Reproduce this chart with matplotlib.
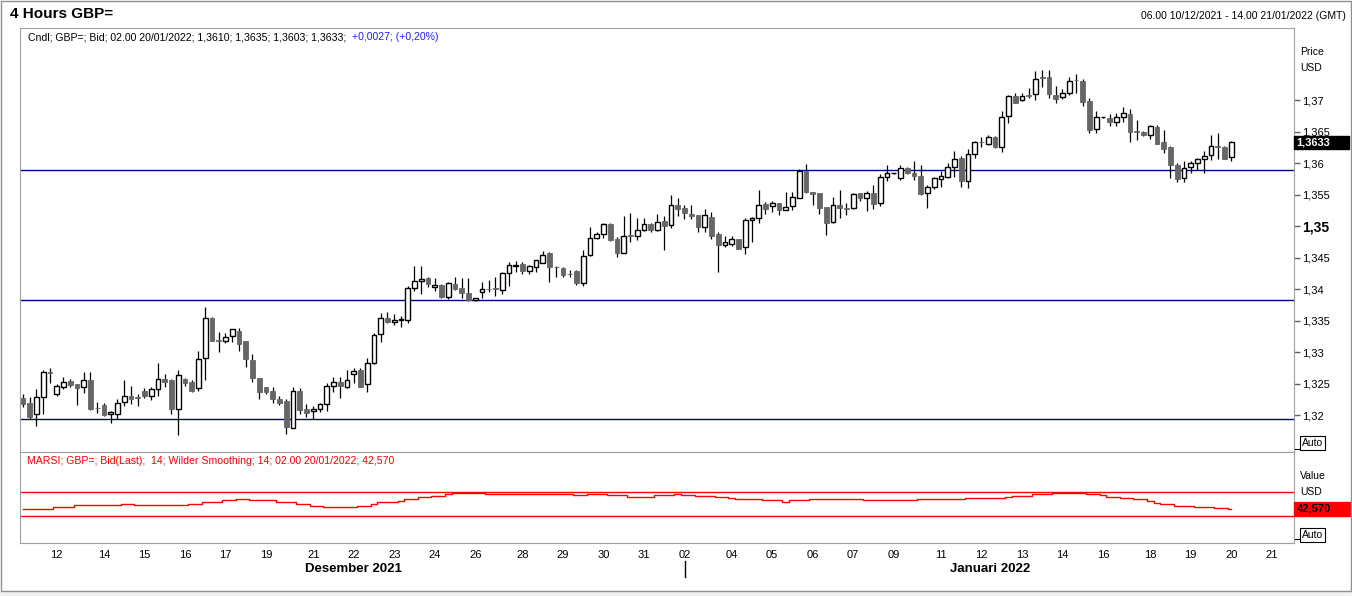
import numpy as np
import matplotlib.pyplot as plt
from matplotlib.patches import Rectangle
from matplotlib.lines import Line2D

plt.rcParams['font.family'] = ['Liberation Sans', 'DejaVu Sans']

# 4h candles, 06.00 10/12/2021 .. 02.00 20/01/2022
opens = [
    1.32275, 1.32196, 1.32011, 1.32281, 1.32678, 1.32339, 1.32439, 1.32540, 1.32492, 1.32439,
    1.32550, 1.32117, 1.32154, 1.32011, 1.32011, 1.32201, 1.32302, 1.32281, 1.32376, 1.32297,
    1.32408, 1.32566, 1.32550, 1.32090, 1.32566, 1.32519, 1.32423, 1.32900, 1.33535, 1.33180,
    1.33170, 1.33254, 1.33333, 1.33175, 1.32873, 1.32587, 1.32444, 1.32381, 1.32254, 1.32222,
    1.31788, 1.32381, 1.32095, 1.32058, 1.32090, 1.32169, 1.32460, 1.32519, 1.32450, 1.32646,
    1.32714, 1.32487, 1.32831, 1.33286, 1.33534, 1.33476, 1.33508, 1.33503, 1.34011, 1.34122,
    1.34169, 1.34032, 1.34064, 1.33878, 1.34080, 1.34016, 1.33937, 1.33826, 1.33958, 1.34000,
    1.34011, 1.33990, 1.34249, 1.34370, 1.34397, 1.34291, 1.34355, 1.34418, 1.34571, 1.34349,
    1.34333, 1.34243, 1.34281, 1.34095, 1.34534, 1.34804, 1.34868, 1.35027, 1.34794, 1.34566,
    1.34847, 1.34836, 1.34931, 1.35026, 1.34931, 1.35079, 1.35021, 1.35328, 1.35286, 1.35185,
    1.35169, 1.34979, 1.35143, 1.34873, 1.34693, 1.34709, 1.34788, 1.34672, 1.35090, 1.35122,
    1.35344, 1.35312, 1.35360, 1.35249, 1.35312, 1.35450, 1.35878, 1.35534, 1.35524, 1.35302,
    1.35069, 1.35328, 1.35280, 1.35280, 1.35519, 1.35439, 1.35519, 1.35371, 1.35783, 1.35836,
    1.35757, 1.35916, 1.35836, 1.35794, 1.35519, 1.35614, 1.35741, 1.35783, 1.35942, 1.36074,
    1.35714, 1.36148, 1.36333, 1.36296, 1.36407, 1.36259, 1.36751, 1.37064, 1.36995, 1.37074,
    1.37090, 1.37360, 1.37365, 1.37085, 1.37048, 1.37106, 1.37317, 1.37302, 1.36979, 1.36534,
    1.36725, 1.36709, 1.36656, 1.36725, 1.36778, 1.36508, 1.36492, 1.36439, 1.36572, 1.36333,
    1.36254, 1.35968, 1.35757, 1.35931, 1.35995, 1.36058, 1.36122, 1.36270, 1.36249, 1.36100,
]
highs = [
    1.32334, 1.32281, 1.32413, 1.32715, 1.32752, 1.32487, 1.32609, 1.32572, 1.32492, 1.32678,
    1.32678, 1.32201, 1.32185, 1.32058, 1.32249, 1.32556, 1.32460, 1.32339, 1.32423, 1.32439,
    1.32820, 1.32651, 1.32566, 1.32715, 1.32582, 1.32550, 1.33016, 1.33720, 1.33556, 1.33323,
    1.33297, 1.33370, 1.33386, 1.33175, 1.32963, 1.32587, 1.32444, 1.32444, 1.32302, 1.32249,
    1.32444, 1.32434, 1.32175, 1.32143, 1.32196, 1.32513, 1.32603, 1.32608, 1.32719, 1.32751,
    1.32741, 1.32905, 1.33302, 1.33624, 1.33630, 1.33598, 1.33577, 1.34048, 1.34370, 1.34370,
    1.34196, 1.34169, 1.34080, 1.34116, 1.34185, 1.34175, 1.34175, 1.33863, 1.34111, 1.34143,
    1.34191, 1.34265, 1.34434, 1.34444, 1.34434, 1.34381, 1.34466, 1.34598, 1.34582, 1.34370,
    1.34349, 1.34296, 1.34296, 1.34614, 1.34984, 1.34905, 1.35053, 1.35048, 1.34825, 1.35159,
    1.35206, 1.35127, 1.35122, 1.35042, 1.35185, 1.35159, 1.35492, 1.35444, 1.35333, 1.35328,
    1.35169, 1.35270, 1.35228, 1.34910, 1.34841, 1.34841, 1.34788, 1.35132, 1.35138, 1.35577,
    1.35376, 1.35397, 1.35370, 1.35540, 1.35545, 1.35899, 1.35984, 1.35534, 1.35524, 1.35302,
    1.35460, 1.35577, 1.35370, 1.35519, 1.35519, 1.35561, 1.35651, 1.35831, 1.35969, 1.35841,
    1.35963, 1.35942, 1.36032, 1.35969, 1.35651, 1.35783, 1.35873, 1.35995, 1.36196, 1.36111,
    1.36217, 1.36354, 1.36407, 1.36445, 1.36428, 1.36825, 1.37085, 1.37116, 1.37116, 1.37196,
    1.37466, 1.37476, 1.37476, 1.37222, 1.37175, 1.37370, 1.37413, 1.37333, 1.37032, 1.36825,
    1.36730, 1.36773, 1.36799, 1.36884, 1.36857, 1.36683, 1.36513, 1.36603, 1.36603, 1.36524,
    1.36270, 1.36005, 1.36032, 1.36026, 1.36085, 1.36196, 1.36445, 1.36477, 1.36270, 1.36350,
]
lows = [
    1.32127, 1.31937, 1.31831, 1.32011, 1.32508, 1.32307, 1.32413, 1.32439, 1.32159, 1.32355,
    1.32074, 1.32027, 1.31990, 1.31879, 1.31937, 1.32148, 1.32180, 1.32148, 1.32265, 1.32244,
    1.32307, 1.32439, 1.32021, 1.31688, 1.32466, 1.32360, 1.32381, 1.32561, 1.33170, 1.32995,
    1.33138, 1.33164, 1.33021, 1.32767, 1.32529, 1.32259, 1.32339, 1.32196, 1.32153, 1.31693,
    1.31788, 1.32016, 1.31974, 1.31936, 1.32053, 1.32069, 1.32370, 1.32275, 1.32429, 1.32513,
    1.32450, 1.32370, 1.32815, 1.33164, 1.33466, 1.33434, 1.33392, 1.33455, 1.33974, 1.33915,
    1.34026, 1.33974, 1.33857, 1.33847, 1.33979, 1.33852, 1.33810, 1.33815, 1.33863, 1.33958,
    1.33894, 1.33915, 1.34053, 1.34275, 1.34243, 1.34243, 1.34265, 1.34418, 1.34116, 1.34185,
    1.34196, 1.34196, 1.34058, 1.34053, 1.34524, 1.34788, 1.34815, 1.34762, 1.34513, 1.34566,
    1.34751, 1.34773, 1.34921, 1.34910, 1.34921, 1.34624, 1.34974, 1.35164, 1.35106, 1.35106,
    1.34910, 1.34910, 1.34799, 1.34275, 1.34672, 1.34688, 1.34635, 1.34550, 1.34751, 1.35053,
    1.35185, 1.35217, 1.35180, 1.35249, 1.35249, 1.35439, 1.35529, 1.35339, 1.35196, 1.34862,
    1.35053, 1.35132, 1.35175, 1.35270, 1.35402, 1.35244, 1.35265, 1.35323, 1.35720, 1.35831,
    1.35730, 1.35826, 1.35730, 1.35492, 1.35291, 1.35582, 1.35614, 1.35757, 1.35783, 1.35624,
    1.35598, 1.36085, 1.36249, 1.36280, 1.36233, 1.36180, 1.36630, 1.36947, 1.36979, 1.37026,
    1.37000, 1.37212, 1.37026, 1.36958, 1.37011, 1.37079, 1.37116, 1.36910, 1.36481, 1.36481,
    1.36720, 1.36593, 1.36593, 1.36646, 1.36328, 1.36365, 1.36428, 1.36376, 1.36296, 1.36153,
    1.35757, 1.35698, 1.35693, 1.35836, 1.35889, 1.35836, 1.36053, 1.36058, 1.36058, 1.36030,
]
closes = [
    1.32180, 1.31974, 1.32281, 1.32678, 1.32672, 1.32455, 1.32519, 1.32476, 1.32434, 1.32550,
    1.32095, 1.32106, 1.32000, 1.32048, 1.32185, 1.32297, 1.32260, 1.32270, 1.32307, 1.32408,
    1.32566, 1.32529, 1.32101, 1.32630, 1.32513, 1.32386, 1.32894, 1.33535, 1.33170, 1.33175,
    1.33244, 1.33360, 1.33132, 1.32894, 1.32593, 1.32370, 1.32370, 1.32259, 1.32196, 1.31815,
    1.32376, 1.32079, 1.32037, 1.32090, 1.32175, 1.32455, 1.32519, 1.32466, 1.32556, 1.32699,
    1.32450, 1.32831, 1.33264, 1.33534, 1.33481, 1.33508, 1.33513, 1.34011, 1.34122, 1.34159,
    1.34074, 1.34064, 1.33878, 1.34090, 1.34005, 1.33942, 1.33820, 1.33863, 1.33995, 1.33995,
    1.33995, 1.34254, 1.34376, 1.34376, 1.34291, 1.34365, 1.34455, 1.34534, 1.34355, 1.34344,
    1.34228, 1.34233, 1.34095, 1.34524, 1.34810, 1.34868, 1.35027, 1.34778, 1.34577, 1.34841,
    1.34841, 1.34931, 1.35026, 1.34942, 1.35069, 1.35005, 1.35328, 1.35265, 1.35212, 1.35164,
    1.34979, 1.35169, 1.34836, 1.34693, 1.34751, 1.34788, 1.34640, 1.35090, 1.35127, 1.35339,
    1.35265, 1.35360, 1.35259, 1.35296, 1.35455, 1.35873, 1.35534, 1.35513, 1.35280, 1.35053,
    1.35328, 1.35291, 1.35275, 1.35503, 1.35439, 1.35519, 1.35355, 1.35773, 1.35836, 1.35836,
    1.35926, 1.35836, 1.35799, 1.35513, 1.35614, 1.35762, 1.35794, 1.35942, 1.36058, 1.35720,
    1.36148, 1.36328, 1.36328, 1.36407, 1.36249, 1.36725, 1.37064, 1.36958, 1.37064, 1.37064,
    1.37328, 1.37355, 1.37101, 1.37021, 1.37106, 1.37296, 1.37312, 1.36974, 1.36524, 1.36725,
    1.36725, 1.36656, 1.36725, 1.36788, 1.36497, 1.36487, 1.36439, 1.36582, 1.36296, 1.36228,
    1.35968, 1.35751, 1.35915, 1.35995, 1.36058, 1.36106, 1.36265, 1.36249, 1.36058, 1.36330,
]

# drawn support/resistance lines
levels = [1.3589, 1.3383, 1.3194]

# MARSI(14): value and how many candles it holds
rsi_levels = [41.3, 42.5, 45.2, 48.0, 49.7, 48.0, 50.8, 53.0, 57.0, 58.7, 57.0, 53.0, 49.7, 46.3,
              45.2, 46.3, 49.7, 53.0, 55.9, 58.7, 61.5, 64.3, 66.6, 69.4, 66.6, 64.9, 66.6, 64.9,
              62.6, 64.9, 67.1, 65.4, 63.2, 62.0, 60.5, 58.7, 56.5, 54.2, 56.5, 58.7, 56.5, 58.7,
              60.3, 61.5, 63.8, 66.6, 69.4, 66.6, 64.9, 62.6, 60.3, 58.1, 54.8, 52.5, 49.7, 47.5,
              45.2, 43.5, 42.57]
rsi_runs = [3, 2, 3, 7, 2, 8, 2, 3, 2, 2, 4, 3, 2, 2,
            5, 2, 1, 3, 1, 2, 2, 2, 1, 5, 13, 2, 3, 3,
            4, 3, 1, 2, 3, 2, 1, 4, 3, 1, 3, 8, 8, 7,
            6, 1, 3, 3, 5, 2, 1, 2, 2, 2, 1, 1, 2, 3,
            3, 2, 1]
rsi_bands = [70, 30]

day_idx = [5, 12, 18, 24, 30, 36, 43, 49, 55, 61, 67, 74, 80, 86, 92,
           98, 105, 111, 117, 123, 129, 136, 142, 148, 154, 160, 167, 173, 179, 185]
day_lbl = ['12', '14', '15', '16', '17', '19', '21', '22', '23', '24', '26', '28', '29', '30', '31',
           '02', '04', '05', '06', '07', '09', '11', '12', '13', '14', '16', '18', '19', '20', '21']

W, H = 1352, 596
fig = plt.figure(figsize=(W / 100, H / 100), dpi=100)


def fx(px):
    return px / W


def fy(py):
    return 1 - py / H


frame_col = '#a0a0a0'
ax = fig.add_axes([fx(20), fy(452), fx(1294) - fx(20), fy(28) - fy(452)])
axr = fig.add_axes([fx(20), fy(543), fx(1294) - fx(20), fy(452) - fy(543)], sharex=ax)

o, h, l, c = map(np.array, (opens, highs, lows, closes))
x = np.arange(len(o))
up = c >= o
lo = np.minimum(o, c)
bh = np.maximum(np.abs(c - o), 0.00012)

ax.vlines(x, l, h, color='black', lw=0.9, zorder=2)
ax.bar(x[up], bh[up], bottom=lo[up], width=0.72, color='white', edgecolor='black', lw=1, zorder=3)
ax.bar(x[~up], bh[~up], bottom=lo[~up], width=0.72, color='#666666', edgecolor='#666666', lw=0.6, zorder=3)
for lv in levels:
    ax.axhline(lv, color='#000080', lw=1, zorder=1)

ax.set_xlim(-0.44, 188.3)
ax.set_ylim(1.31413, 1.38143)
ticks = np.round(np.arange(1.32, 1.3701, 0.005), 3)
tlbl = [('%.3f' % t).rstrip('0').replace('.', ',') for t in ticks]
ax.yaxis.tick_right()
ax.set_yticks(ticks, tlbl)
ax.tick_params(axis='y', length=4, width=1, color='#606060', pad=2, labelsize=8)
for t in ax.get_yticklabels():
    if t.get_text() == '1,35':
        t.set_fontweight('bold')
        t.set_fontsize(10)
ax.tick_params(axis='x', bottom=False, labelbottom=False)
for s in ax.spines.values():
    s.set_color(frame_col)

# last price box
ytr = ax.get_yaxis_transform()
ax.add_patch(Rectangle((1.0, c[-1] - 0.00105), 55 / 1274, 0.0021, transform=ytr,
                       color='black', clip_on=False, zorder=5))
ax.text(1.002, c[-1], ('%.4f' % c[-1]).replace('.', ','), transform=ytr, color='white',
        fontweight='bold', fontsize=8, va='center', ha='left', zorder=6)

# RSI panel
rsi = np.repeat(rsi_levels, rsi_runs)
axr.plot(np.arange(len(rsi)), rsi, color='red', lw=1, drawstyle='steps-mid')
for b in rsi_bands:
    axr.axhline(b, color='red', lw=1)
axr.set_ylim(-15.6, 138)
axr.set_yticks([])
axr.set_xticks(day_idx, day_lbl)
axr.tick_params(axis='x', length=0, pad=5, labelsize=8)
for s in axr.spines.values():
    s.set_color(frame_col)
rtr = axr.get_yaxis_transform()
axr.add_patch(Rectangle((1.0, rsi[-1] - 11.8), 58 / 1274, 23.6, transform=rtr,
                        color='red', clip_on=False, zorder=5))
axr.text(1.002, rsi[-1], ('%.3f' % rsi[-1]).replace('.', ','), transform=rtr, color='black',
         fontweight='bold', fontsize=8, va='center', ha='left', zorder=6)

# header texts
fig.text(fx(10), fy(14), '4 Hours GBP=', fontsize=11, fontweight='bold', va='center')
fig.text(fx(1346), fy(16), '06.00 10/12/2021 - 14.00 21/01/2022 (GMT)', fontsize=7.5,
         ha='right', va='center')
info = fig.text(fx(28), fy(37), 'Cndl; GBP=; Bid; 02.00 20/01/2022; 1,3610; 1,3635; 1,3603; 1,3633; ',
                fontsize=7.6, va='center')
fig.canvas.draw()
x_end = info.get_window_extent().x1 / W
fig.text(x_end + fx(3), fy(37), '+0,0027; (+0,20%)', fontsize=7.6, va='center', color='#2020ff')
fig.text(fx(27), fy(461), 'MARSI; GBP=; Bid(Last);  14; Wilder Smoothing; 14; 02.00 20/01/2022; 42,570',
         fontsize=7.6, va='center', color='red')
fig.text(fx(1300), fy(52), 'Price', fontsize=7.5, va='center')
fig.text(fx(1300), fy(68), 'USD', fontsize=7.5, va='center')
fig.text(fx(1300), fy(476), 'Value', fontsize=7.5, va='center')
fig.text(fx(1300), fy(492), 'USD', fontsize=7.5, va='center')
box = dict(boxstyle='square,pad=0.15', fc='white', ec='black', lw=0.8)
fig.text(fx(1302), fy(443), 'Auto', fontsize=7.5, va='center', bbox=box)
fig.text(fx(1302), fy(535), 'Auto', fontsize=7.5, va='center', bbox=box)
fig.add_artist(Line2D([fx(1295), fx(1299)], [fy(449), fy(449)], color='black', lw=0.8))
fig.add_artist(Line2D([fx(1295), fx(1299)], [fy(539), fy(539)], color='black', lw=0.8))

# month captions and year separator
fig.text(fx(353), fy(569), 'Desember 2021', fontsize=9.5, fontweight='bold', ha='center', va='center')
fig.text(fx(990), fy(569), 'Januari 2022', fontsize=9.5, fontweight='bold', ha='center', va='center')
fig.add_artist(Line2D([fx(685), fx(685)], [fy(561), fy(577)], color='black', lw=1))

# window frame
fig.add_artist(Rectangle((0, 0), 1, fy(591), transform=fig.transFigure, color='#f0f0f0', zorder=-5))
fig.add_artist(Rectangle((fx(1), fy(591)), fx(1350), fy(1) - fy(591), transform=fig.transFigure,
                         fill=False, edgecolor='#909090', lw=1))

fig.savefig('out.png', dpi=100)
